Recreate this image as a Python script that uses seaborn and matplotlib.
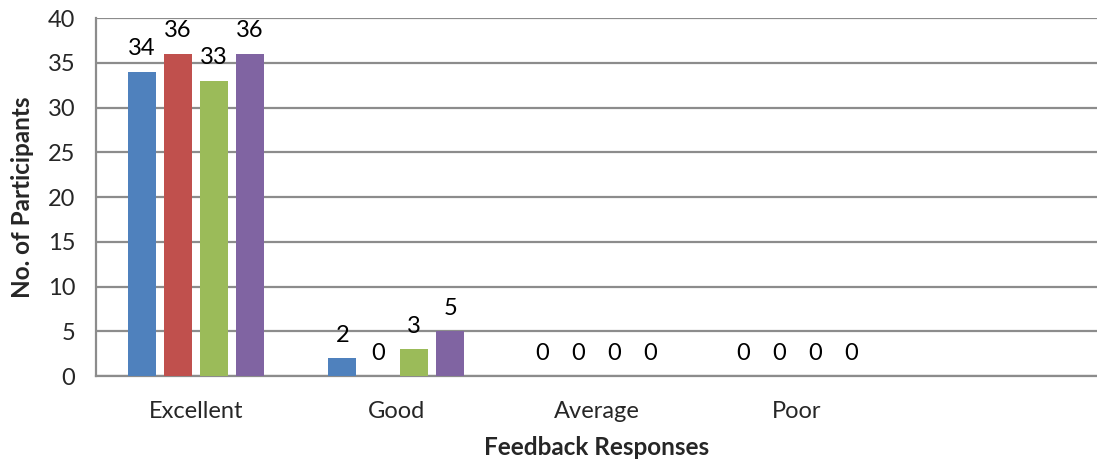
import matplotlib
matplotlib.use("Agg")
import matplotlib.pyplot as plt
import seaborn as sns
import pandas as pd

categories = ["Excellent", "Good", "Average", "Poor"]
series_names = ["Q1", "Q2", "Q3", "Q4"]
q1 = [34, 2, 0, 0]
q2 = [36, 0, 0, 0]
q3 = [33, 3, 0, 0]
q4 = [36, 5, 0, 0]
palette = ["#4F81BD", "#C0504D", "#9BBB59", "#8064A2"]

rows = []
for name, vals in zip(series_names, [q1, q2, q3, q4]):
    for cat, v in zip(categories, vals):
        rows.append({"response": cat, "series": name, "count": v})
df = pd.DataFrame(rows)

sns.set_style("white")
plt.rcParams["font.family"] = ["Lato", "DejaVu Sans"]

fig = plt.figure(figsize=(10.97, 4.65), dpi=100)
ax = fig.add_axes([0.0875, 0.191, 0.9125, 0.770])

sns.barplot(data=df, x="response", y="count", hue="series", order=categories,
            hue_order=series_names, palette=palette, width=0.72, gap=0.22,
            saturation=1, legend=False, ax=ax, zorder=3, linewidth=0)

for container in ax.containers:
    ax.bar_label(container, fmt="%d", padding=9, fontsize=17, color="black")

ax.set_xlim(-0.5, 4.5)
ax.set_ylim(0, 40)
ax.set_yticks(range(0, 41, 5))
ax.yaxis.grid(True, color="#8c8c8c", linewidth=1.6, zorder=0)
ax.set_axisbelow(True)
for s in ["top", "right"]:
    ax.spines[s].set_visible(False)
for s in ["left", "bottom"]:
    ax.spines[s].set_color("#8c8c8c")
    ax.spines[s].set_linewidth(1.6)
ax.tick_params(axis="both", length=0, labelsize=17)
ax.tick_params(axis="y", pad=15)
ax.tick_params(axis="x", pad=18)

ax.set_xlabel("Feedback Responses", fontsize=17.5, fontweight="bold", labelpad=10)
ax.set_ylabel("No. of Participants", fontsize=17.5, fontweight="bold", labelpad=10)

fig.savefig("out.png", dpi=100)
